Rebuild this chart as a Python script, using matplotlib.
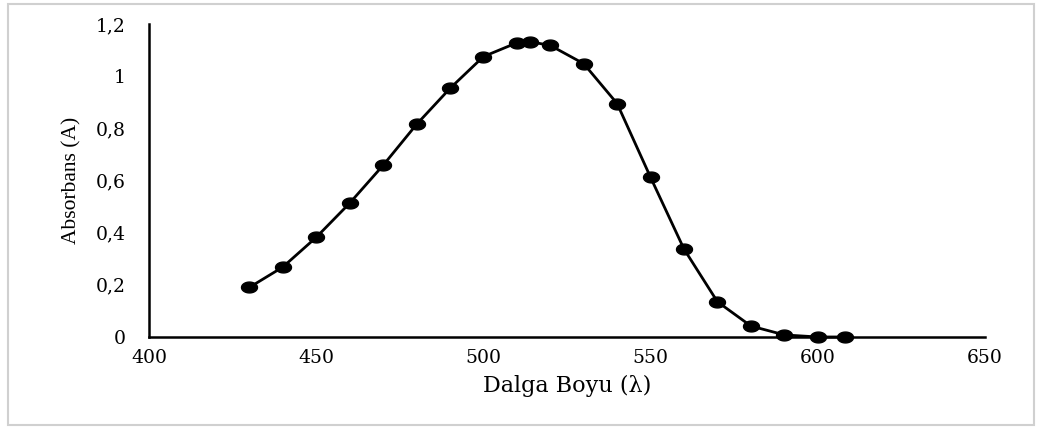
import numpy as np
import matplotlib.pyplot as plt
from matplotlib.path import Path
from matplotlib.patches import Rectangle

# wavelength (nm) and absorbance
wavelength = [430, 440, 450, 460, 470, 480, 490, 500, 510, 514, 520, 530,
              540, 550, 560, 570, 580, 590, 600, 608]
absorbance = [0.19, 0.268, 0.382, 0.513, 0.658, 0.815, 0.953, 1.075, 1.128, 1.132,
              1.118, 1.048, 0.895, 0.612, 0.337, 0.135, 0.042, 0.008, 0.0, 0.0]

xticks = [400, 450, 500, 550, 600, 650]
yticks = [0, 0.2, 0.4, 0.6, 0.8, 1.0, 1.2]
ytick_labels = ['0', '0,2', '0,4', '0,6', '0,8', '1', '1,2']

plt.rcParams['font.family'] = ['DejaVu Serif']

fig = plt.figure(figsize=(10.39, 4.29), dpi=100)
ax = fig.add_axes([0.1434, 0.2145, 0.8046, 0.7295])

# slightly wide ellipse marker, like the stretched original
t = np.linspace(0, 2 * np.pi, 40)
ell = Path(np.column_stack([np.cos(t), 0.68 * np.sin(t)]), closed=True)

ax.plot(wavelength, absorbance, color='black', lw=2, marker=ell,
        markersize=11.5, markerfacecolor='black', markeredgecolor='black',
        clip_on=False, zorder=3)

ax.set_xlim(400, 650)
ax.set_ylim(0, 1.2)
ax.set_xticks(xticks)
ax.set_yticks(yticks)
ax.set_yticklabels(ytick_labels)
ax.tick_params(axis='both', length=0, labelsize=13.5)
ax.tick_params(axis='y', pad=17)
ax.tick_params(axis='x', pad=9)

for s in ['top', 'right']:
    ax.spines[s].set_visible(False)
ax.spines['left'].set_linewidth(1.8)
ax.spines['bottom'].set_linewidth(1.8)

ax.set_xlabel('Dalga Boyu (λ)', fontsize=16, labelpad=5)
ax.set_ylabel('Absorbans (A)', fontsize=15.5, family='Liberation Serif', labelpad=10)

# light frame around the chart
fig.patches.append(Rectangle((0.008, 0.01), 0.987, 0.98, transform=fig.transFigure,
                             fill=False, edgecolor='#d0d0d0', lw=1.5))

fig.savefig('out.png', dpi=100)
